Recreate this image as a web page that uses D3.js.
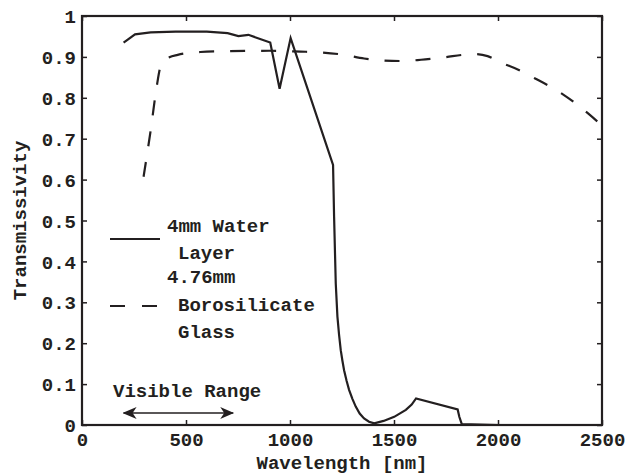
<!DOCTYPE html>
<html>
<head>
<meta charset="utf-8">
<script src="https://cdn.jsdelivr.net/npm/d3@7"></script>
<style>
  body { margin: 0; background: #fff; }
  text { font-family: 'Courier New', 'Liberation Mono', monospace; font-weight: bold; fill: #231f20; }
</style>
</head>
<body>
<div id="graph"></div>
<script>
// 4mm water layer
const waterWl = [200, 255, 330, 450, 600, 700, 752, 800, 905, 950, 1003, 1207, 1212, 1220, 1228, 1236, 1244, 1252, 1260, 1272, 1284, 1300, 1316, 1335, 1356, 1380, 1405, 1450, 1501, 1557, 1585, 1606, 1806, 1814, 1826, 2005]
const waterT = [0.935, 0.955, 0.96, 0.962, 0.962, 0.958, 0.951, 0.954, 0.935, 0.822, 0.946, 0.636, 0.509, 0.346, 0.265, 0.22, 0.183, 0.157, 0.134, 0.108, 0.086, 0.064, 0.045, 0.028, 0.016, 0.008, 0.004, 0.01, 0.02, 0.037, 0.05, 0.065, 0.038, 0.02, 0.002, 0]

// 4.76mm borosilicate glass
const glassWl = [296, 330, 360, 376, 395, 420, 460, 569, 700, 900, 1051, 1150, 1260, 1356, 1450, 1533, 1630, 1726, 1887, 1950, 2015, 2100, 2176, 2305, 2433, 2500]
const glassT = [0.607, 0.72, 0.83, 0.874, 0.89, 0.899, 0.905, 0.912, 0.914, 0.915, 0.913, 0.911, 0.905, 0.896, 0.891, 0.89, 0.893, 0.898, 0.907, 0.902, 0.886, 0.868, 0.848, 0.811, 0.762, 0.732]

const xTicks = [0, 500, 1000, 1500, 2000, 2500]
const yTicks = [0, 0.1, 0.2, 0.3, 0.4, 0.5, 0.6, 0.7, 0.8, 0.9, 1]
const visibleRange = [200, 727]

const margin = { top: 16, right: 31, bottom: 49, left: 82 },
  width = 633 - margin.left - margin.right,
  height = 474 - margin.top - margin.bottom

const svg = d3
  .select('#graph')
  .append('svg')
  .attr('width', 633)
  .attr('height', 474)
  .append('g')
  .attr('transform', `translate(${margin.left}, ${margin.top})`)

const x = d3.scaleLinear().domain([0, 2500]).range([0, width])
const y = d3.scaleLinear().domain([0, 1]).range([height, 0])

const ink = '#231f20'
const fontSize = 19

// axes, ticks pointing inwards
const bottom = svg
  .append('g')
  .attr('transform', `translate(0,${height})`)
  .call(d3.axisBottom(x).tickValues(xTicks).tickSizeInner(-5).tickSizeOuter(0).tickFormat((d) => String(d)))
bottom.selectAll('text').attr('y', 21).attr('dy', 0).style('font-size', fontSize + 'px')

const left = svg
  .append('g')
  .call(d3.axisLeft(y).tickValues(yTicks).tickSizeInner(-5).tickSizeOuter(0).tickFormat((d) => String(d)))
left.selectAll('text').attr('x', -6).attr('dy', '0.35em').style('font-size', fontSize + 'px')

svg.append('g').call(d3.axisTop(x).tickValues(xTicks).tickSizeInner(-5).tickSizeOuter(0).tickFormat(''))
svg
  .append('g')
  .attr('transform', `translate(${width},0)`)
  .call(d3.axisRight(y).tickValues(yTicks).tickSizeInner(-5).tickSizeOuter(0).tickFormat(''))

svg.selectAll('.domain').remove()
svg.selectAll('.tick line').attr('stroke', ink).attr('stroke-width', 1.5)
svg.selectAll('g text').attr('font-family', null).attr('fill', ink)

svg
  .append('rect')
  .attr('width', width)
  .attr('height', height)
  .attr('fill', 'none')
  .attr('stroke', ink)
  .attr('stroke-width', 2.2)

// curves
const waterData = waterWl.map((w, i) => [w, waterT[i]])
const glassData = glassWl.map((w, i) => [w, glassT[i]])

svg
  .append('path')
  .datum(waterData)
  .attr('fill', 'none')
  .attr('stroke', ink)
  .attr('stroke-width', 2.2)
  .attr('stroke-linejoin', 'miter')
  .attr('d', d3.line().x((d) => x(d[0])).y((d) => y(d[1])))

svg
  .append('path')
  .datum(glassData)
  .attr('fill', 'none')
  .attr('stroke', ink)
  .attr('stroke-width', 2.2)
  .attr('stroke-dasharray', '15,16')
  .attr('d', d3.line().curve(d3.curveMonotoneX).x((d) => x(d[0])).y((d) => y(d[1])))

// legend
const legend = svg.append('g').attr('transform', 'translate(28,0)')
legend.append('line').attr('x1', 0).attr('x2', 50).attr('y1', 223).attr('y2', 223).attr('stroke', ink).attr('stroke-width', 2.2)
legend.append('line').attr('x1', 0).attr('x2', 48).attr('y1', 290).attr('y2', 290).attr('stroke', ink).attr('stroke-width', 2.2).attr('stroke-dasharray', '15,17')
const legendText = [
  ['4mm Water', 57, 216],
  ['Layer', 68, 243],
  ['4.76mm', 57, 267],
  ['Borosilicate', 68, 295],
  ['Glass', 68, 322],
]
legendText.forEach((t) => {
  legend.append('text').attr('x', t[1]).attr('y', t[2]).style('font-size', fontSize + 'px').text(t[0])
})

// visible range arrow
const defs = svg.append('defs')
defs
  .append('marker')
  .attr('id', 'head')
  .attr('viewBox', '0 0 14 12')
  .attr('refX', 13)
  .attr('refY', 6)
  .attr('markerWidth', 14)
  .attr('markerHeight', 12)
  .attr('markerUnits', 'userSpaceOnUse')
  .attr('orient', 'auto-start-reverse')
  .append('path')
  .attr('d', 'M0,0 L14,6 L0,12 L4,6 Z')
  .attr('fill', ink)

svg
  .append('line')
  .attr('x1', x(visibleRange[0]))
  .attr('x2', x(visibleRange[1]))
  .attr('y1', 397)
  .attr('y2', 397)
  .attr('stroke', ink)
  .attr('stroke-width', 1.3)
  .attr('marker-start', 'url(#head)')
  .attr('marker-end', 'url(#head)')

svg.append('text').attr('x', 31).attr('y', 381).style('font-size', fontSize + 'px').text('Visible Range')

// axis titles
svg
  .append('text')
  .attr('x', width / 2)
  .attr('y', 453)
  .attr('text-anchor', 'middle')
  .style('font-size', fontSize + 'px')
  .text('Wavelength [nm]')

svg
  .append('text')
  .attr('transform', `translate(-56,${height / 2}) rotate(-90)`)
  .attr('text-anchor', 'middle')
  .style('font-size', fontSize + 'px')
  .text('Transmissivity')
</script>
</body>
</html>
